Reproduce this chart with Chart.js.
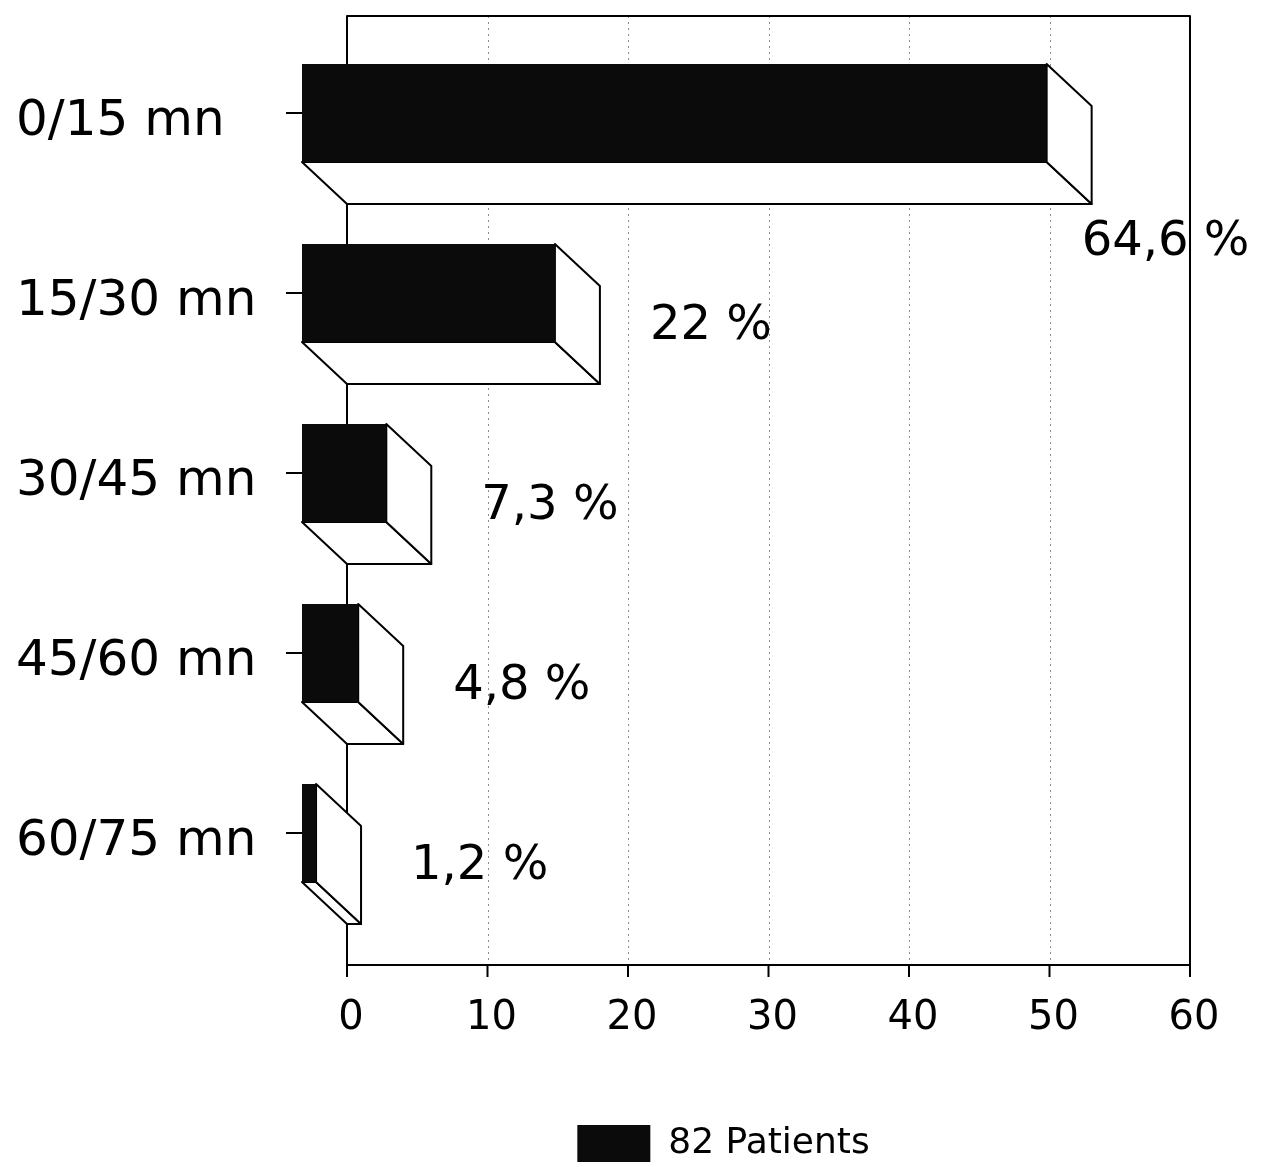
<!DOCTYPE html>
<html>
<head>
<meta charset="utf-8">
<title>Délai de prise en charge</title>
<script src="https://cdn.jsdelivr.net/npm/chart.js@4.4.1/dist/chart.umd.min.js"></script>
<style>
  html, body { margin: 0; padding: 0; background: #fff; }
  #wrap { width: 1262px; height: 1167px; position: relative; }
</style>
</head>
<body>
<div id="wrap"><canvas id="chart"></canvas></div>
<script>
// Time bands (minutes) and number of patients in each band
const categories = ['0/15 mn', '15/30 mn', '30/45 mn', '45/60 mn', '60/75 mn'];
const patients = [53, 18, 6, 4, 1];
const percentLabels = ['64,6 %', '22 %', '7,3 %', '4,8 %', '1,2 %'];
const seriesName = '82 Patients';
const axisMin = 0;
const axisMax = 60;
const axisStep = 10;

// 3D look: depth of the extruded bars and of the back wall
const DX = 45;
const DY = 42;
const FRAME_TOP = 16;
const TICK_LEN = 12;
const FONT = '"DejaVu Sans", "Liberation Sans", Arial, sans-serif';

function strokeLine(ctx, x1, y1, x2, y2) {
  ctx.beginPath();
  ctx.moveTo(x1, y1);
  ctx.lineTo(x2, y2);
  ctx.stroke();
}

function polygon(ctx, pts) {
  ctx.beginPath();
  ctx.moveTo(pts[0][0], pts[0][1]);
  for (let i = 1; i < pts.length; i++) ctx.lineTo(pts[i][0], pts[i][1]);
  ctx.closePath();
  ctx.fill();
  ctx.stroke();
}

const depthPlugin = {
  id: 'depth3d',
  beforeDatasetsDraw(chart) {
    const { ctx, chartArea: a, scales: { x } } = chart;
    const left = a.left + DX;
    const right = a.right + DX;
    const bottom = a.bottom + DY;
    ctx.save();

    // dotted grid on the back wall
    ctx.strokeStyle = 'rgba(0,0,0,0.45)';
    ctx.lineWidth = 1;
    ctx.setLineDash([2, 4]);
    x.ticks.forEach(t => {
      if (t.value > x.min && t.value < x.max) {
        const px = Math.round(x.getPixelForValue(t.value) + DX) + 0.5;
        strokeLine(ctx, px, FRAME_TOP, px, bottom);
      }
    });
    ctx.setLineDash([]);

    // back wall frame and value axis
    ctx.strokeStyle = '#000';
    ctx.lineWidth = 2;
    ctx.lineJoin = 'round';
    ctx.beginPath();
    ctx.moveTo(left, bottom + TICK_LEN);
    ctx.lineTo(left, FRAME_TOP);
    ctx.lineTo(right, FRAME_TOP);
    ctx.lineTo(right, bottom + TICK_LEN);
    ctx.stroke();
    strokeLine(ctx, left, bottom, right, bottom);
    x.ticks.forEach(t => {
      const px = x.getPixelForValue(t.value) + DX;
      strokeLine(ctx, px, bottom, px, bottom + TICK_LEN);
    });

    // extruded faces of each bar
    ctx.fillStyle = '#fff';
    ctx.lineWidth = 2;
    chart.getDatasetMeta(0).data.forEach(bar => {
      const p = bar.getProps(['x', 'y', 'base', 'height'], true);
      const top = p.y - p.height / 2;
      const bot = p.y + p.height / 2;
      polygon(ctx, [[p.base, bot], [p.x, bot], [p.x + DX, bot + DY], [p.base + DX, bot + DY]]);
      polygon(ctx, [[p.x, top], [p.x + DX, top + DY], [p.x + DX, bot + DY], [p.x, bot]]);
    });
    ctx.restore();
  },
  afterDatasetsDraw(chart) {
    const { ctx, chartArea: a } = chart;
    const frameRight = a.right + DX;
    ctx.save();
    ctx.font = '48px ' + FONT;
    ctx.fillStyle = '#000';
    ctx.textAlign = 'left';
    ctx.textBaseline = 'alphabetic';
    chart.getDatasetMeta(0).data.forEach((bar, i) => {
      const p = bar.getProps(['x', 'y', 'height'], true);
      const text = percentLabels[i];
      const w = ctx.measureText(text).width;
      const backEnd = p.x + DX;
      let tx = backEnd + 50;
      let ty = p.y + 46;
      if (tx + w > frameRight) {
        // no room beside the bar: set the label under its end
        tx = backEnd - 10;
        ty = p.y + p.height / 2 + DY + 34 + 17;
      }
      ctx.fillText(text, tx, ty);
    });
    ctx.restore();
  }
};

new Chart(document.getElementById('chart'), {
  type: 'bar',
  data: {
    labels: categories,
    datasets: [{
      label: seriesName,
      data: patients,
      backgroundColor: '#0b0b0b',
      borderWidth: 0,
      barPercentage: 0.545,
      categoryPercentage: 1
    }]
  },
  options: {
    indexAxis: 'y',
    responsive: true,
    maintainAspectRatio: false,
    animation: false,
    events: [],
    layout: { padding: { left: 16, right: 117, top: 22, bottom: -5 } },
    scales: {
      x: {
        min: axisMin,
        max: axisMax,
        grid: { display: false, drawTicks: false },
        border: { display: false },
        ticks: {
          stepSize: axisStep,
          labelOffset: DX + 4,
          padding: 72,
          color: '#000',
          font: { family: FONT, size: 40 }
        },
        afterFit(scale) { scale.height = 192; }
      },
      y: {
        grid: {
          offset: false,
          drawOnChartArea: false,
          drawTicks: true,
          tickLength: 16,
          color: '#000',
          lineWidth: 2
        },
        border: { display: false },
        ticks: {
          crossAlign: 'far',
          labelOffset: 9,
          color: '#000',
          font: { family: FONT, size: 50, lineHeight: 0.8 }
        },
        afterFit(scale) { scale.width = 286; }
      }
    },
    plugins: {
      tooltip: { enabled: false },
      legend: {
        position: 'bottom',
        fullSize: false,
        labels: {
          boxWidth: 73,
          boxHeight: 37,
          padding: 10,
          color: '#000',
          font: { family: FONT, size: 36 }
        }
      }
    }
  },
  plugins: [depthPlugin]
});
</script>
</body>
</html>
